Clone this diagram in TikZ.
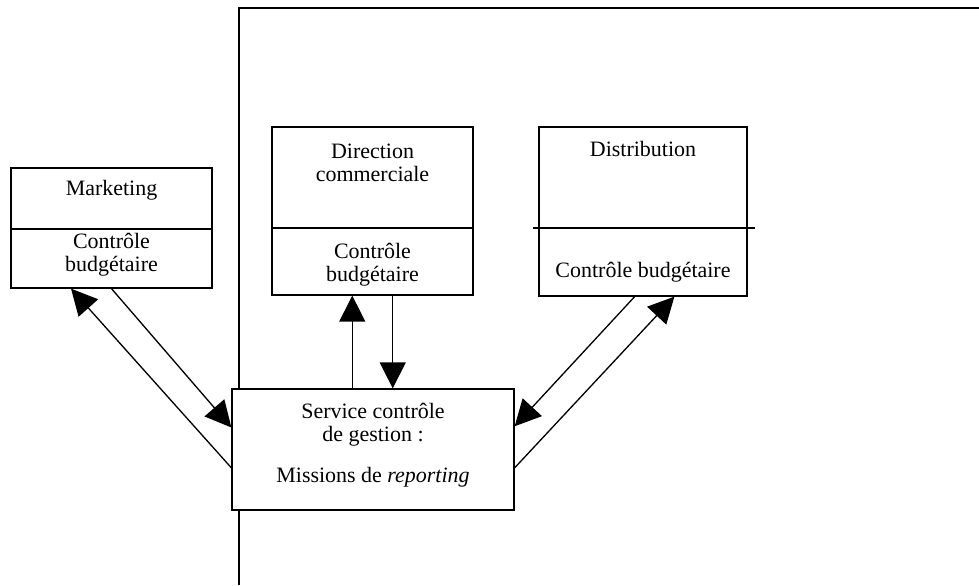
\documentclass[tikz,border=0pt]{standalone}
\usepackage{fontspec}
\setmainfont{Liberation Serif}
\usepackage{tikz}
\usetikzlibrary{arrows.meta,calc}

\begin{document}
\begin{tikzpicture}[x=0.02cm, y=-0.02cm, line width=0.75pt,
    box/.style={draw, fill=white, inner sep=0pt},
    lbl/.style={font=\fontsize{12.5}{13.3}\selectfont, align=center, inner sep=0pt},
    link/.style={-{Triangle[length=0.52cm,width=0.52cm]}}]
  \useasboundingbox (0,0) rectangle (979,585);
  \draw (979,8) -- (239,8) -- (239,585);

  \node[box, minimum width=4.02cm, minimum height=2.4cm] (marketing) at (111.5,228) {};
  \node[box, minimum width=4.02cm, minimum height=3.36cm] (direction) at (372.5,211) {};
  \node[box, minimum width=4.16cm, minimum height=3.38cm] (distribution) at (643,211.5) {};
  \node[box, minimum width=5.64cm, minimum height=2.42cm] (service) at (373,449.5) {};

  \draw (marketing.west |- 0,229) -- (marketing.east |- 0,229);
  \draw (direction.west |- 0,228) -- (direction.east |- 0,228);
  \draw (533,228) -- (755,228);

  \node[lbl] (marketing-t) at (111.5,190) {Marketing};
  \node[lbl] (marketing-c) at (111.5,254.5) {Contrôle\\budgétaire};
  \node[lbl] (direction-t) at (372.5,163) {Direction\\commerciale};
  \node[lbl] (direction-c) at (372.5,265) {Contrôle\\budgétaire};
  \node[lbl] (distribution-t) at (643,149) {Distribution};
  \node[lbl] (distribution-c) at (643,272) {Contrôle budgétaire};
  \node[lbl] (service-t) at (373,425) {Service contrôle\\de gestion :};
  \node[lbl] (service-m) at (373,477) {Missions de \textit{reporting}};

  % liaisons
  \coordinate (dir-up) at ($(direction.south west)!0.4!(direction.south east)$);
  \coordinate (dir-down) at ($(direction.south west)!0.6!(direction.south east)$);
  \draw[link] (marketing.south) -- ($(service.north west)!0.32!(service.south west)$);
  \draw[link] ($(service.north west)!0.65!(service.south west)$) -- ($(marketing.south west)!0.3!(marketing.south east)$);
  \draw[link] (dir-up |- service.north) -- (dir-up);
  \draw[link] (dir-down) -- (dir-down |- service.north);
  \draw[link] ($(distribution.south west)!0.46!(distribution.south east)$) -- ($(service.north east)!0.31!(service.south east)$);
  \draw[link] ($(service.north east)!0.65!(service.south east)$) -- ($(distribution.south west)!0.65!(distribution.south east)$);
\end{tikzpicture}
\end{document}
